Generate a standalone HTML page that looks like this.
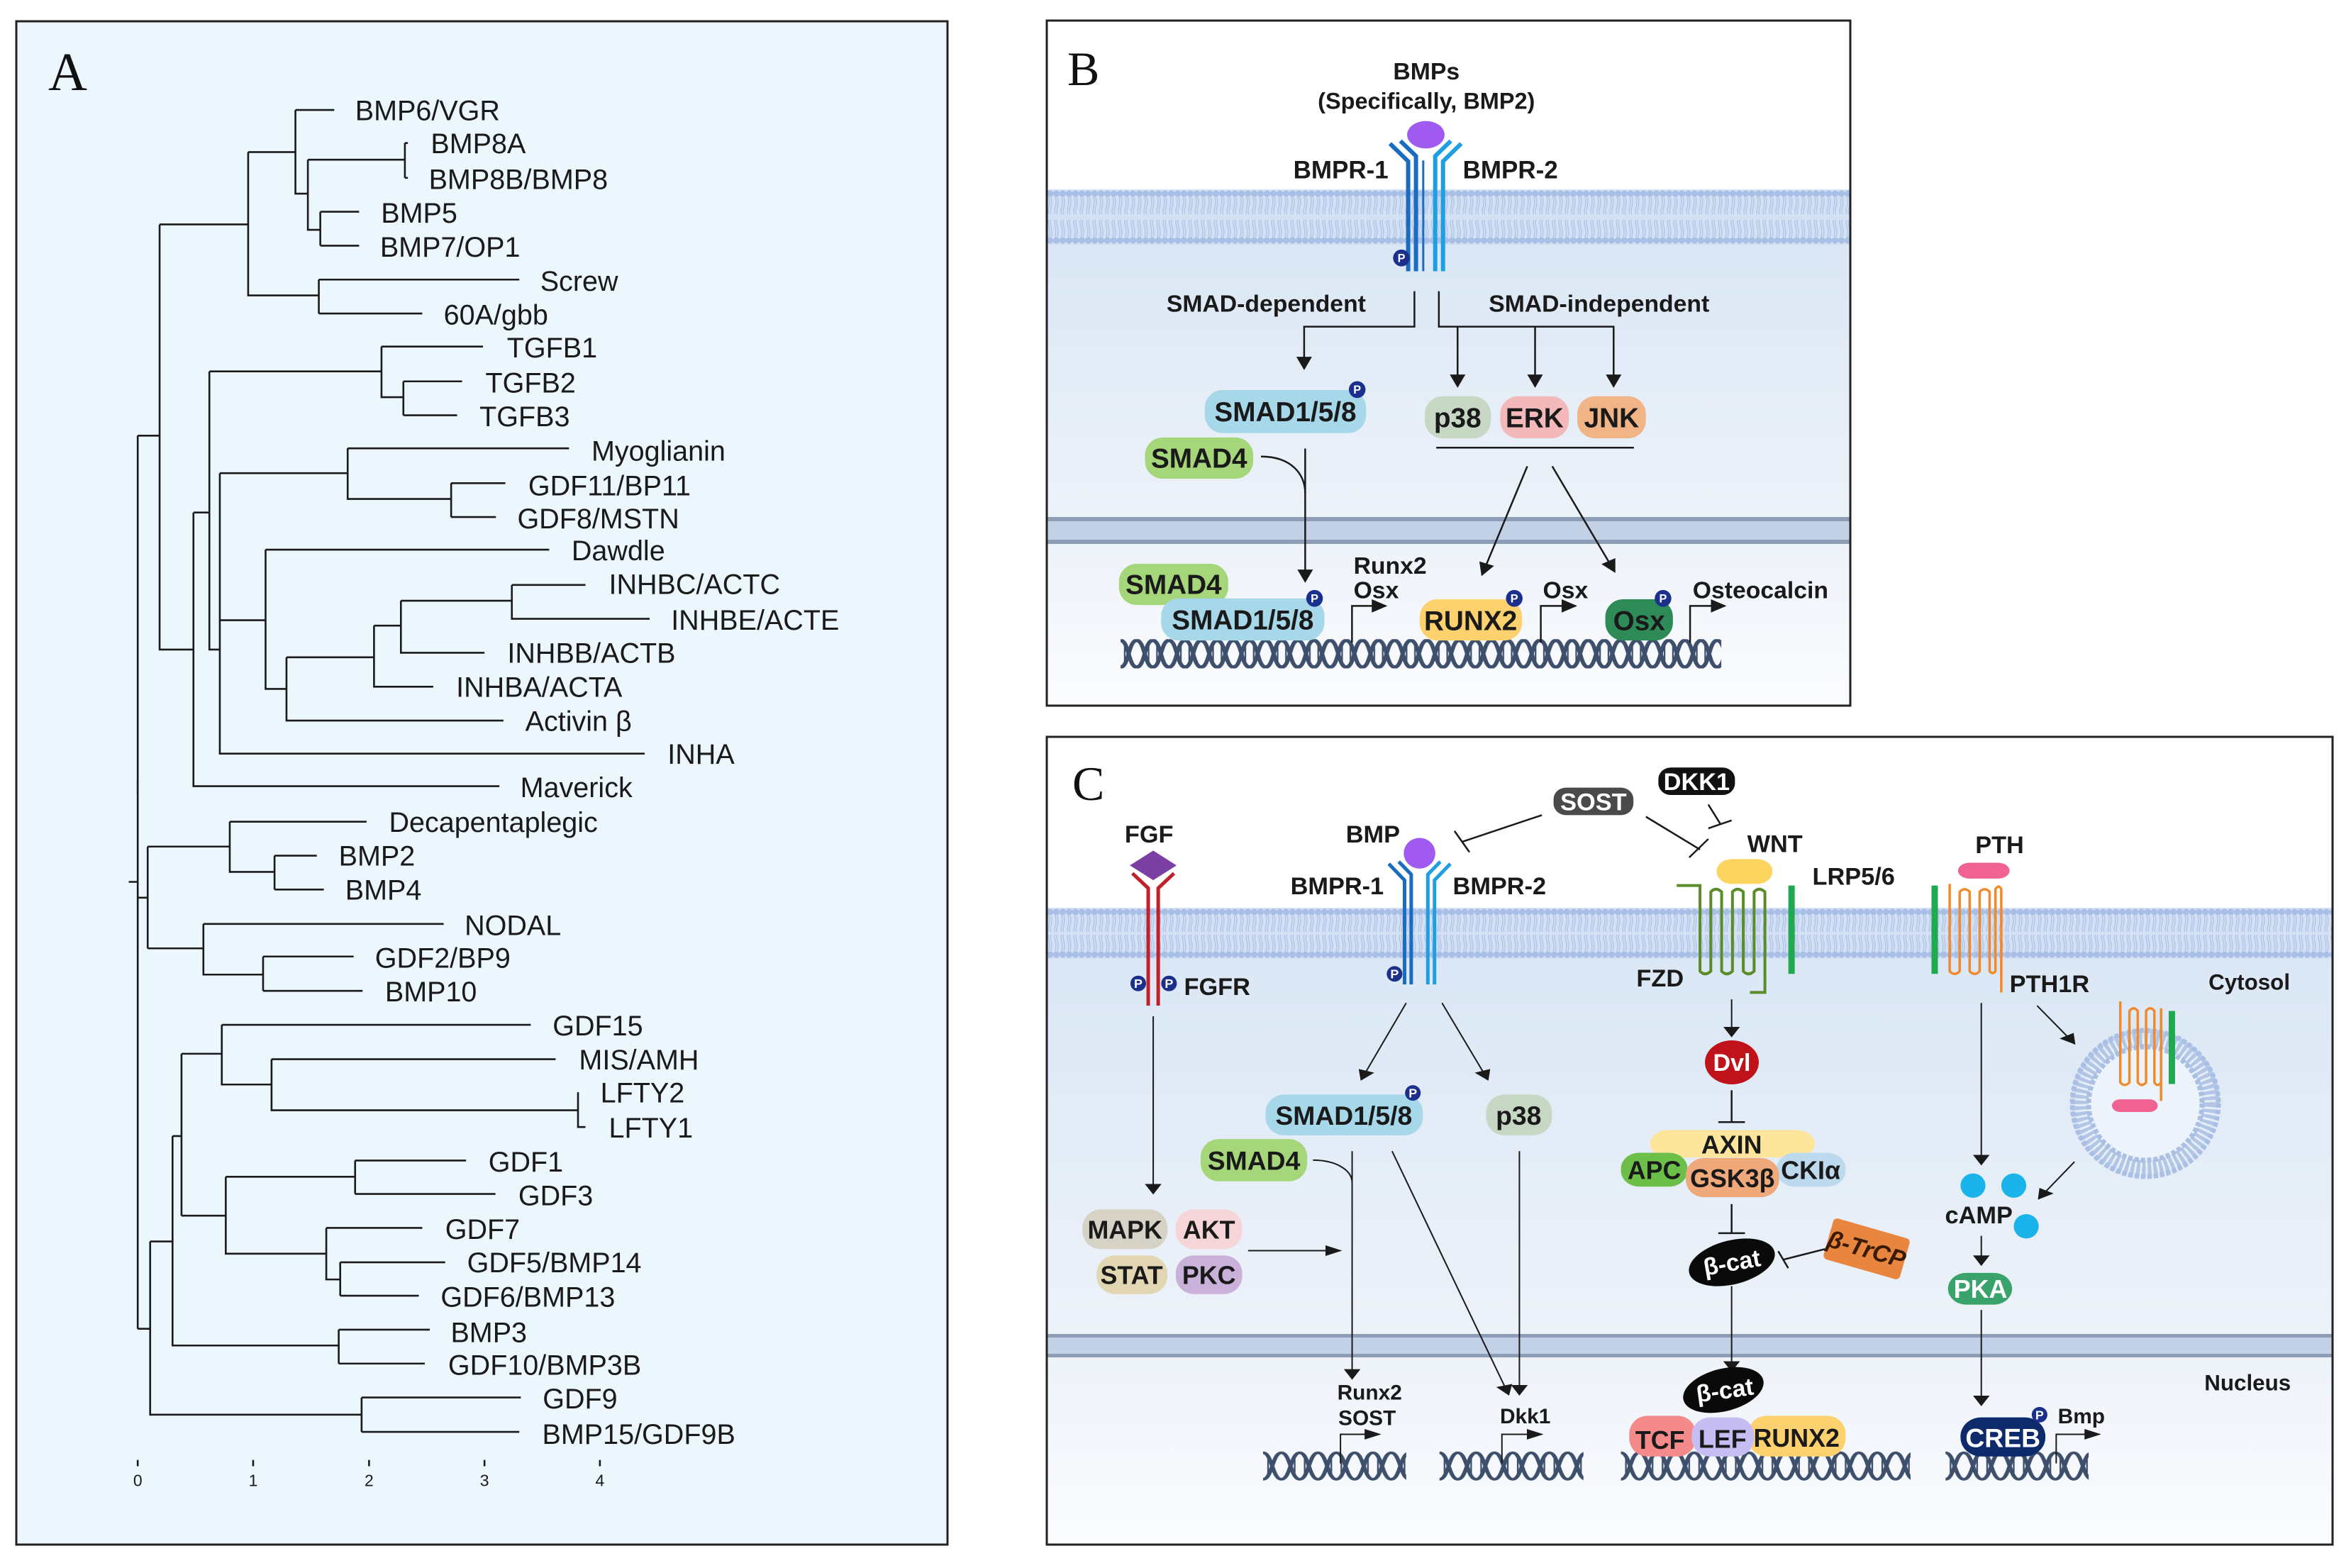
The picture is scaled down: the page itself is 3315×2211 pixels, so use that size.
<!DOCTYPE html>
<html><head><meta charset="utf-8">
<style>
html,body{margin:0;padding:0;background:#fff;}
svg{display:block;}
.ta text{font-family:"Liberation Sans",Arial,sans-serif;font-size:62px;fill:#1a1a1a;}
.tb text{font-family:"Liberation Sans",Arial,sans-serif;font-weight:bold;fill:#1a1a1a;}
.ln{fill:none;vector-effect:non-scaling-stroke;}
.ln:not([stroke]){stroke:#1a1a1a;}
</style></head>
<body>
<svg width="3315" height="2211" viewBox="0 0 3315 2211" xmlns="http://www.w3.org/2000/svg">
<defs>
<pattern id="memB" patternUnits="userSpaceOnUse" width="9" height="78">
<rect width="9" height="78" fill="#d4e0f3"/>
<circle cx="4.5" cy="6" r="4.6" fill="#a8bfe6"/><circle cx="4.5" cy="72" r="4.6" fill="#a8bfe6"/>
<path d="M3,11 q2,7 0,14 q-2,7 0,10 M6,11 q2,7 0,14 q-2,7 0,10 M3,67 q2,-7 0,-14 q-2,-7 0,-10 M6,67 q2,-7 0,-14 q-2,-7 0,-10" stroke="#adc3e8" stroke-width="1.3" fill="none"/>
</pattern>
<pattern id="memC" patternUnits="userSpaceOnUse" width="9" height="72">
<rect width="9" height="72" fill="#d4e0f3"/>
<circle cx="4.5" cy="6" r="4.6" fill="#a8bfe6"/><circle cx="4.5" cy="66" r="4.6" fill="#a8bfe6"/>
<path d="M3,11 q2,7 0,14 q-2,6 0,9 M6,11 q2,7 0,14 q-2,6 0,9 M3,61 q2,-7 0,-14 q-2,-6 0,-9 M6,61 q2,-7 0,-14 q-2,-6 0,-9" stroke="#adc3e8" stroke-width="1.3" fill="none"/>
</pattern>
<linearGradient id="cyt" x1="0" y1="0" x2="0" y2="1"><stop offset="0" stop-color="#dbe7f5"/><stop offset="1" stop-color="#edf2f9"/></linearGradient>
<linearGradient id="nuc" x1="0" y1="0" x2="0" y2="1"><stop offset="0" stop-color="#eef3fa"/><stop offset="1" stop-color="#fbfcfe"/></linearGradient>
<marker id="ah" markerUnits="userSpaceOnUse" markerWidth="30" markerHeight="30" viewBox="0 0 10 10" refX="9" refY="5" orient="auto"><path d="M0,0 L10,5 L0,10 z" fill="#1a1a1a"/></marker>
<marker id="ahC" markerUnits="userSpaceOnUse" markerWidth="20" markerHeight="20" viewBox="0 0 10 10" refX="9" refY="5" orient="auto"><path d="M0,0 L10,5 L0,10 z" fill="#1a1a1a"/></marker>
<pattern id="dnaB" patternUnits="userSpaceOnUse" width="62" height="66">
<path d="M0,3 C16,3 15,63 31,63 C47,63 46,3 62,3 M0,63 C16,63 15,3 31,3 C47,3 46,63 62,63" stroke="#3d4f6b" stroke-width="8" fill="none"/>
<path d="M8,14 V52 M54,14 V52" stroke="#3d4f6b" stroke-width="3" fill="none"/>
</pattern>
<pattern id="dnaC" patternUnits="userSpaceOnUse" width="44" height="56">
<path d="M0,3 C11,3 11,53 22,53 C33,53 33,3 44,3 M0,53 C11,53 11,3 22,3 C33,3 33,53 44,53" stroke="#3d4f6b" stroke-width="5" fill="none"/>
<path d="M6,12 V44 M38,12 V44" stroke="#3d4f6b" stroke-width="2" fill="none"/>
</pattern>
</defs>

<!-- ================= PANEL A ================= -->
<rect x="23" y="30" width="1313" height="2148" fill="#ebf6fd" stroke="#222" stroke-width="3"/>
<text x="68" y="127" font-family="Liberation Serif,serif" font-size="76" fill="#111">A</text>

<g transform="translate(150,120) scale(0.7015,0.6378)">
<path class="ln" stroke-width="2.6" d="
M380,55 H458 M380,55 V240 H405 M405,165 V320 H430 M405,165 H600 M600,128 V205 M600,128 H606 M600,205 H606
M430,280 V355 M430,280 H508 M430,355 H508
M285,148 H380 M285,148 V465 H427 M427,430 V505 M427,430 H830 M427,505 H635
M107,308 H285 M107,308 V1248 H175 M63,775 H107 M63,775 V1568
M553,578 V690 H597 M553,578 H757 M597,655 V730 M597,655 H715 M597,730 H705
M207,633 H553 M207,633 V1248 H228 M175,945 H207 M175,945 V1550 H790
M228,858 V1478 H1082 M228,858 H485 M485,803 V915 H693 M485,803 H930 M693,880 V955 M693,880 H802 M693,955 H783
M228,1183 H320 M320,1027 V1335 H362 M320,1027 H890 M362,1265 V1405 H798 M362,1265 H538 M538,1195 V1330 H657 M538,1195 H592
M592,1140 V1255 H760 M592,1140 H815 M815,1105 V1180 H1092 M815,1105 H963"/>
<g class="ta">
<text transform="translate(500,55) scale(0.909,1)" dy="0.36em">BMP6/VGR</text>
<text transform="translate(652,128) scale(0.909,1)" dy="0.36em">BMP8A</text>
<text transform="translate(648,207) scale(0.909,1)" dy="0.36em">BMP8B/BMP8</text>
<text transform="translate(552,282) scale(0.909,1)" dy="0.36em">BMP5</text>
<text transform="translate(550,357) scale(0.909,1)" dy="0.36em">BMP7/OP1</text>
<text transform="translate(872,432) scale(0.909,1)" dy="0.36em">Screw</text>
<text transform="translate(678,507) scale(0.909,1)" dy="0.36em">60A/gbb</text>
<text transform="translate(805,580) scale(0.909,1)" dy="0.36em">TGFB1</text>
<text transform="translate(762,657) scale(0.909,1)" dy="0.36em">TGFB2</text>
<text transform="translate(750,732) scale(0.909,1)" dy="0.36em">TGFB3</text>
<text transform="translate(975,808) scale(0.909,1)" dy="0.36em">Myoglianin</text>
<text transform="translate(848,885) scale(0.909,1)" dy="0.36em">GDF11/BP11</text>
<text transform="translate(826,958) scale(0.909,1)" dy="0.36em">GDF8/MSTN</text>
<text transform="translate(935,1028) scale(0.909,1)" dy="0.36em">Dawdle</text>
<text transform="translate(1010,1103) scale(0.909,1)" dy="0.36em">INHBC/ACTC</text>
<text transform="translate(1135,1182) scale(0.909,1)" dy="0.36em">INHBE/ACTE</text>
<text transform="translate(806,1255) scale(0.909,1)" dy="0.36em">INHBB/ACTB</text>
<text transform="translate(703,1330) scale(0.909,1)" dy="0.36em">INHBA/ACTA</text>
<text transform="translate(842,1405) scale(0.909,1)" dy="0.36em">Activin β</text>
<text transform="translate(1128,1478) scale(0.909,1)" dy="0.36em">INHA</text>
</g>
</g>

<g transform="translate(150,1100) scale(0.7015,0.6378)">
<path class="ln" stroke-width="2.6" d="
M63,0 V1213 M45,225 H63 M63,260 H83 M83,147 V372 M83,147 H248 M248,92 V203 H338 M248,92 H523 M338,167 V242 M338,167 H423 M338,242 H437
M83,372 H195 M195,318 V430 H315 M195,318 H678 M315,390 V466 M315,390 H497 M315,466 H515
M63,1213 H88 M88,1020 V1403 H513 M513,1365 V1441 M513,1365 H833 M513,1441 H830
M88,1020 H133 M133,787 V1250 H467 M467,1215 V1290 M467,1215 H650 M467,1290 H640
M133,787 H151 M151,605 V963 M151,605 H232 M232,541 V673 H332 M232,541 H853 M332,617 V730 H948 M332,617 H903 M948,690 V767 H963
M151,963 H240 M240,877 V1047 H442 M240,877 H500 M500,841 V915 M500,841 H723 M500,915 H782
M442,990 V1104 H470 M442,990 H635 M470,1066 V1140 M470,1066 H681 M470,1140 H628
M63,1503 V1517 M295,1503 V1517 M528,1503 V1517 M760,1503 V1517 M992,1503 V1517"/>
<g class="ta">
<text transform="translate(832,15) scale(0.909,1)" dy="0.36em">Maverick</text>
<text transform="translate(568,92) scale(0.909,1)" dy="0.36em">Decapentaplegic</text>
<text transform="translate(467,167) scale(0.909,1)" dy="0.36em">BMP2</text>
<text transform="translate(480,242) scale(0.909,1)" dy="0.36em">BMP4</text>
<text transform="translate(720,320) scale(0.909,1)" dy="0.36em">NODAL</text>
<text transform="translate(540,392) scale(0.909,1)" dy="0.36em">GDF2/BP9</text>
<text transform="translate(560,467) scale(0.909,1)" dy="0.36em">BMP10</text>
<text transform="translate(897,542) scale(0.909,1)" dy="0.36em">GDF15</text>
<text transform="translate(950,617) scale(0.909,1)" dy="0.36em">MIS/AMH</text>
<text transform="translate(993,690) scale(0.909,1)" dy="0.36em">LFTY2</text>
<text transform="translate(1010,768) scale(0.909,1)" dy="0.36em">LFTY1</text>
<text transform="translate(768,843) scale(0.909,1)" dy="0.36em">GDF1</text>
<text transform="translate(828,918) scale(0.909,1)" dy="0.36em">GDF3</text>
<text transform="translate(681,992) scale(0.909,1)" dy="0.36em">GDF7</text>
<text transform="translate(725,1066) scale(0.909,1)" dy="0.36em">GDF5/BMP14</text>
<text transform="translate(672,1142) scale(0.909,1)" dy="0.36em">GDF6/BMP13</text>
<text transform="translate(692,1220) scale(0.909,1)" dy="0.36em">BMP3</text>
<text transform="translate(687,1292) scale(0.909,1)" dy="0.36em">GDF10/BMP3B</text>
<text transform="translate(877,1367) scale(0.909,1)" dy="0.36em">GDF9</text>
<text transform="translate(876,1445) scale(0.909,1)" dy="0.36em">BMP15/GDF9B</text>
<text transform="translate(63,1548) scale(0.909,1)" dy="0.36em" text-anchor="middle" style="font-size:36px">0</text>
<text transform="translate(295,1548) scale(0.909,1)" dy="0.36em" text-anchor="middle" style="font-size:36px">1</text>
<text transform="translate(528,1548) scale(0.909,1)" dy="0.36em" text-anchor="middle" style="font-size:36px">2</text>
<text transform="translate(760,1548) scale(0.909,1)" dy="0.36em" text-anchor="middle" style="font-size:36px">3</text>
<text transform="translate(992,1548) scale(0.909,1)" dy="0.36em" text-anchor="middle" style="font-size:36px">4</text>
</g>
</g>

<!-- ================= PANEL B ================= -->
<rect x="1476" y="29" width="1133" height="966" fill="#fff"/>
<rect x="1476" y="345" width="1133" height="384" fill="url(#cyt)"/>
<rect x="1476" y="767" width="1133" height="228" fill="url(#nuc)"/>
<g transform="translate(1476,267)"><rect width="1133" height="78" fill="url(#memB)"/></g>
<rect x="1476" y="729" width="1133" height="38" fill="#c3d1e7"/>
<rect x="1476" y="729" width="1133" height="6" fill="#8e9db6"/>
<rect x="1476" y="761" width="1133" height="6" fill="#8e9db6"/>
<rect x="1476" y="29" width="1133" height="966" fill="none" stroke="#222" stroke-width="3"/>
<text x="1505" y="120" font-family="Liberation Serif,serif" font-size="68" fill="#111">B</text>

<g transform="translate(1470,20) scale(0.7334,0.625)">
<ellipse cx="737" cy="272" rx="36" ry="31" fill="#a05af0"/>
<path class="ln" stroke="#1a6cc0" stroke-width="6" d="M668,292 L703,332 V580 M688,286 L718,320 V580"/>
<path class="ln" stroke="#1f9fe2" stroke-width="6" d="M805,292 L770,332 V580 M785,286 L755,320 V580"/>
<path class="ln" stroke="#1a6cc0" stroke-width="3" d="M732,330 V580"/>
<ellipse cx="690" cy="550" rx="16" ry="19" fill="#1b2f8c"/>
<g class="tb">
<text transform="translate(738,128) scale(0.852,1)" dy="0.36em" text-anchor="middle" font-size="54">BMPs</text>
<text transform="translate(738,195) scale(0.852,1)" dy="0.36em" text-anchor="middle" font-size="52">(Specifically, BMP2)</text>
<text transform="translate(665,350) scale(0.852,1)" dy="0.36em" text-anchor="end" font-size="56">BMPR-1</text>
<text transform="translate(808,350) scale(0.852,1)" dy="0.36em" font-size="56">BMPR-2</text>
<text transform="translate(690,550) scale(0.852,1)" dy="0.36em" text-anchor="middle" font-size="26" style="fill:#fff">P</text>
<text transform="translate(430,652) scale(0.852,1)" dy="0.36em" text-anchor="middle" font-size="54">SMAD-dependent</text>
<text transform="translate(1070,652) scale(0.852,1)" dy="0.36em" text-anchor="middle" font-size="54">SMAD-independent</text>
</g>
<path class="ln" stroke-width="2.5" d="M715,625 V705 H503 V800" marker-end="url(#ah)"/>
<path class="ln" stroke-width="2.5" d="M762,625 V705 H1098 V840" marker-end="url(#ah)"/>
<path class="ln" stroke-width="2.5" d="M798,705 V840" marker-end="url(#ah)"/>
<path class="ln" stroke-width="2.5" d="M947,705 V840" marker-end="url(#ah)"/>
<rect x="312" y="848" width="310" height="97" rx="34" ry="40" fill="#a6d8ea"/>
<rect x="197" y="955" width="208" height="93" rx="34" ry="40" fill="#a5d67a"/>
<rect x="735" y="862" width="127" height="95" rx="34" ry="40" fill="#c6d8c4"/>
<rect x="880" y="862" width="132" height="95" rx="34" ry="40" fill="#f3b9ba"/>
<rect x="1028" y="862" width="132" height="95" rx="34" ry="40" fill="#f0b486"/>
<ellipse cx="605" cy="847" rx="16" ry="19" fill="#1b2f8c"/>
<path class="ln" stroke-width="2.5" d="M757,978 H1137"/>
<path class="ln" stroke-width="2.5" d="M420,998 C480,998 505,1040 505,1080"/>
<path class="ln" stroke-width="2.5" d="M505,980 V1280" marker-end="url(#ah)"/>
<path class="ln" stroke-width="2.5" d="M932,1020 L845,1265" marker-end="url(#ah)"/>
<path class="ln" stroke-width="2.5" d="M980,1020 L1100,1258" marker-end="url(#ah)"/>
<g transform="translate(150,1410)"><rect width="1155" height="66" fill="url(#dnaB)"/></g>
<rect x="147" y="1240" width="210" height="93" rx="34" ry="40" fill="#a5d67a"/>
<rect x="228" y="1318" width="314" height="95" rx="34" ry="40" fill="#a6d8ea"/>
<ellipse cx="523" cy="1318" rx="16" ry="19" fill="#1b2f8c"/>
<rect x="725" y="1320" width="197" height="93" rx="34" ry="40" fill="#fdd26e"/>
<ellipse cx="907" cy="1318" rx="16" ry="19" fill="#1b2f8c"/>
<rect x="1082" y="1320" width="130" height="93" rx="34" ry="40" fill="#2e8b57"/>
<ellipse cx="1193" cy="1318" rx="16" ry="19" fill="#1b2f8c"/>
<path class="ln" stroke-width="2.5" d="M595,1418 V1335 H660" marker-end="url(#ah)"/>
<path class="ln" stroke-width="2.5" d="M958,1418 V1335 H1025" marker-end="url(#ah)"/>
<path class="ln" stroke-width="2.5" d="M1245,1418 V1335 H1312" marker-end="url(#ah)"/>
<g class="tb">
<text transform="translate(467,896) scale(0.852,1)" dy="0.36em" text-anchor="middle" font-size="62">SMAD1/5/8</text>
<text transform="translate(301,1001) scale(0.852,1)" dy="0.36em" text-anchor="middle" font-size="62">SMAD4</text>
<text transform="translate(798,910) scale(0.852,1)" dy="0.36em" text-anchor="middle" font-size="62">p38</text>
<text transform="translate(946,910) scale(0.852,1)" dy="0.36em" text-anchor="middle" font-size="62">ERK</text>
<text transform="translate(1094,910) scale(0.852,1)" dy="0.36em" text-anchor="middle" font-size="62">JNK</text>
<text transform="translate(252,1286) scale(0.852,1)" dy="0.36em" text-anchor="middle" font-size="62">SMAD4</text>
<text transform="translate(385,1366) scale(0.852,1)" dy="0.36em" text-anchor="middle" font-size="62">SMAD1/5/8</text>
<text transform="translate(823,1367) scale(0.852,1)" dy="0.36em" text-anchor="middle" font-size="62">RUNX2</text>
<text transform="translate(1147,1367) scale(0.852,1)" dy="0.36em" text-anchor="middle" font-size="62">Osx</text>
<text transform="translate(598,1243) scale(0.852,1)" dy="0.36em" font-size="54">Runx2</text>
<text transform="translate(598,1298) scale(0.852,1)" dy="0.36em" font-size="54">Osx</text>
<text transform="translate(962,1298) scale(0.852,1)" dy="0.36em" font-size="54">Osx</text>
<text transform="translate(1250,1298) scale(0.852,1)" dy="0.36em" font-size="54">Osteocalcin</text>
<text transform="translate(605,847) scale(0.852,1)" dy="0.36em" text-anchor="middle" font-size="26" style="fill:#fff">P</text>
<text transform="translate(523,1318) scale(0.852,1)" dy="0.36em" text-anchor="middle" font-size="26" style="fill:#fff">P</text>
<text transform="translate(907,1318) scale(0.852,1)" dy="0.36em" text-anchor="middle" font-size="26" style="fill:#fff">P</text>
<text transform="translate(1193,1318) scale(0.852,1)" dy="0.36em" text-anchor="middle" font-size="26" style="fill:#fff">P</text>
</g>
</g>

<!-- ================= PANEL C ================= -->
<rect x="1476" y="1039" width="1813" height="1139" fill="#fff"/>
<rect x="1476" y="1352" width="1813" height="529" fill="url(#cyt)"/>
<rect x="1476" y="1914" width="1813" height="264" fill="url(#nuc)"/>
<g transform="translate(1476,1280)"><rect width="1813" height="72" fill="url(#memC)"/></g>
<rect x="1476" y="1881" width="1813" height="33" fill="#c3d1e7"/>
<rect x="1476" y="1881" width="1813" height="5" fill="#8e9db6"/>
<rect x="1476" y="1909" width="1813" height="5" fill="#8e9db6"/>
<rect x="1476" y="1039" width="1813" height="1139" fill="none" stroke="#222" stroke-width="3"/>
<text x="1512" y="1128" font-family="Liberation Serif,serif" font-size="68" fill="#111">C</text>

<circle cx="3025" cy="1556" r="92" fill="#e9f0f9" stroke="#b3c6e6" stroke-width="26" stroke-dasharray="5 3"/>
<circle cx="3025" cy="1556" r="103" fill="none" stroke="#a9bfe4" stroke-width="7" stroke-dasharray="6 3"/>
<circle cx="3025" cy="1556" r="80" fill="#edf3fa" stroke="#a9bfe4" stroke-width="7" stroke-dasharray="6 3"/>

<g transform="translate(1470,1030) scale(1.1735,0.7462)">
<path d="M133,227 L161,255 L133,283 L105,255 z" fill="#7b3fa3"/>
<path class="ln" stroke="#c0202a" stroke-width="5" d="M108,270 L127,298 V520 M158,270 L139,298 V520"/>
<ellipse cx="115" cy="478" rx="9.4" ry="14.7" fill="#1b2f8c"/>
<ellipse cx="152" cy="478" rx="9.4" ry="14.7" fill="#1b2f8c"/>
<path class="ln" stroke-width="2" d="M133,540 V875" marker-end="url(#ahC)"/>
<rect x="48" y="905" width="102" height="75" rx="22" ry="34" fill="#d6d2c6"/>
<rect x="160" y="905" width="80" height="75" rx="22" ry="34" fill="#f6d5d8"/>
<rect x="65" y="992" width="85" height="73" rx="22" ry="34" fill="#e3d6b2"/>
<rect x="160" y="992" width="80" height="73" rx="22" ry="34" fill="#c9b1d9"/>
<path class="ln" stroke-width="2" d="M247,983 H358" marker-end="url(#ahC)"/>
<ellipse cx="453" cy="232" rx="19" ry="29" fill="#a05af0"/>
<path class="ln" stroke="#1a6cc0" stroke-width="5" d="M416,252 L435,283 V480 M428,248 L443,272 V480"/>
<path class="ln" stroke="#1f9fe2" stroke-width="5" d="M490,252 L471,283 V480 M478,248 L463,272 V480"/>
<ellipse cx="423" cy="460" rx="9.4" ry="14.7" fill="#1b2f8c"/>
<path class="ln" stroke-width="2" d="M437,515 L383,660" marker-end="url(#ahC)"/>
<path class="ln" stroke-width="2" d="M480,515 L535,660" marker-end="url(#ahC)"/>
<rect x="268" y="688" width="189" height="77" rx="22" ry="34" fill="#a6d8ea"/>
<ellipse cx="445" cy="685" rx="9.4" ry="14.7" fill="#1b2f8c"/>
<rect x="533" y="688" width="79" height="77" rx="22" ry="34" fill="#c6d8c4"/>
<rect x="190" y="772" width="128" height="80" rx="22" ry="34" fill="#a5d67a"/>
<path class="ln" stroke-width="2" d="M325,812 C352,812 372,830 372,855"/>
<path class="ln" stroke-width="2" d="M372,795 V1225" marker-end="url(#ahC)"/>
<path class="ln" stroke-width="2" d="M420,795 L560,1255" marker-end="url(#ahC)"/>
<path class="ln" stroke-width="2" d="M573,795 V1255" marker-end="url(#ahC)"/>
<g transform="translate(265,1362)"><rect width="172" height="56" fill="url(#dnaC)"/></g>
<g transform="translate(477,1362)"><rect width="173" height="56" fill="url(#dnaC)"/></g>
<g transform="translate(695,1362)"><rect width="348" height="56" fill="url(#dnaC)"/></g>
<g transform="translate(1085,1362)"><rect width="172" height="56" fill="url(#dnaC)"/></g>
<path class="ln" stroke-width="2" d="M358,1385 V1330 H405" marker-end="url(#ahC)"/>
<path class="ln" stroke-width="2" d="M552,1385 V1330 H600" marker-end="url(#ahC)"/>
<rect x="614" y="108" width="96" height="52" rx="15" ry="22" fill="#4a4a4a"/>
<rect x="740" y="70" width="92" height="52" rx="15" ry="22" fill="#111"/>
<path class="ln" stroke-width="2.5" d="M600,160 L505,210 M495,190 L513,230"/>
<path class="ln" stroke-width="2.5" d="M725,163 L790,225 M777,240 L800,205"/>
<path class="ln" stroke-width="2.5" d="M800,140 L815,178 M800,185 L828,170"/>
<rect x="810" y="243" width="67" height="47" rx="18" ry="23" fill="#fcd55f"/>
<path class="ln" stroke="#5b8c2a" stroke-width="4" d="M762,293 H790 V455 Q796,465 803,455 V305 Q809,295 816,305 V455 Q822,465 829,455 V305 Q835,295 842,305 V455 Q848,465 855,455 V305 Q861,295 868,305 V495 H850"/>
<path class="ln" stroke="#1faa4f" stroke-width="9" d="M900,293 V460"/>
<path class="ln" stroke-width="2" d="M828,508 V578" marker-end="url(#ahC)"/>
<path class="ln" stroke-width="2.5" d="M828,680 V740 M812,740 H844"/>
<rect x="730" y="755" width="198" height="52" rx="22" ry="26" fill="#fde59c"/>
<rect x="695" y="798" width="80" height="64" rx="22" ry="30" fill="#6cc04a"/>
<rect x="882" y="798" width="83" height="64" rx="22" ry="30" fill="#bcd9ee"/>
<rect x="773" y="808" width="112" height="74" rx="22" ry="32" fill="#f0a97a"/>
<path class="ln" stroke-width="2.5" d="M828,895 V950 M812,950 H844"/>
<path class="ln" stroke-width="2.5" d="M940,980 L890,1000 M884,984 L896,1016"/>
<path class="ln" stroke-width="2" d="M828,1050 V1210" marker-end="url(#ahC)"/>
<rect x="705" y="1295" width="80" height="77" rx="22" ry="34" fill="#f48a8a"/>
<rect x="848" y="1295" width="117" height="77" rx="22" ry="34" fill="#fdd26e"/>
<rect x="780" y="1298" width="75" height="74" rx="22" ry="34" fill="#c6bdf3"/>
<rect x="1100" y="250" width="62" height="30" rx="14" ry="15" fill="#f06292"/>
<path class="ln" stroke="#1faa4f" stroke-width="9" d="M1072,293 V460"/>
<path class="ln" stroke="#f08a2c" stroke-width="3.5" d="M1090,290 V455 Q1096,465 1102,455 V305 Q1108,295 1114,305 V455 Q1120,465 1126,455 V305 Q1132,295 1138,305 V455 Q1142,462 1145,455 V300 Q1149,290 1152,300 V495"/>
<path class="ln" stroke-width="2" d="M1128,515 V820" marker-end="url(#ahC)"/>
<path class="ln" stroke-width="2" d="M1195,520 L1240,592" marker-end="url(#ahC)"/>
<path class="ln" stroke="#f08a2c" stroke-width="3.5" d="M1295,512 V665 Q1300,675 1306,665 V530 Q1311,520 1316,530 V665 Q1321,675 1326,665 V530 Q1331,520 1336,530 V665 Q1340,675 1344,665 V525 M1344,665 V700"/>
<path class="ln" stroke="#1faa4f" stroke-width="9" d="M1357,530 V668"/>
<rect x="1285" y="697" width="55" height="24" rx="10" ry="12" fill="#f06292"/>
<path class="ln" stroke-width="2" d="M1240,815 L1197,885" marker-end="url(#ahC)"/>
<ellipse cx="1118" cy="860" rx="15" ry="23" fill="#1ab3ea"/>
<ellipse cx="1167" cy="860" rx="15" ry="23" fill="#1ab3ea"/>
<ellipse cx="1182" cy="937" rx="15" ry="23" fill="#1ab3ea"/>
<path class="ln" stroke-width="2" d="M1128,955 V1010" marker-end="url(#ahC)"/>
<rect x="1088" y="1025" width="77" height="60" rx="22" ry="30" fill="#3aa36b"/>
<path class="ln" stroke-width="2" d="M1128,1095 V1275" marker-end="url(#ahC)"/>
<rect x="1103" y="1298" width="102" height="74" rx="25" ry="36" fill="#0d2a6b"/>
<ellipse cx="1198" cy="1293" rx="9.4" ry="14.7" fill="#1b2f8c"/>
<path class="ln" stroke-width="2" d="M1218,1385 V1330 H1270" marker-end="url(#ahC)"/>
<g class="tb">
<text transform="translate(128,195) scale(0.636,1)" dy="0.36em" text-anchor="middle" font-size="46">FGF</text>
<text transform="translate(170,483) scale(0.636,1)" dy="0.36em" font-size="46">FGFR</text>
<text transform="translate(115,478) scale(0.636,1)" dy="0.36em" text-anchor="middle" font-size="24" style="fill:#fff">P</text>
<text transform="translate(152,478) scale(0.636,1)" dy="0.36em" text-anchor="middle" font-size="24" style="fill:#fff">P</text>
<text transform="translate(99,943) scale(0.636,1)" dy="0.36em" text-anchor="middle" font-size="48">MAPK</text>
<text transform="translate(200,943) scale(0.636,1)" dy="0.36em" text-anchor="middle" font-size="48">AKT</text>
<text transform="translate(107,1029) scale(0.636,1)" dy="0.36em" text-anchor="middle" font-size="48">STAT</text>
<text transform="translate(200,1029) scale(0.636,1)" dy="0.36em" text-anchor="middle" font-size="48">PKC</text>
<text transform="translate(397,195) scale(0.636,1)" dy="0.36em" text-anchor="middle" font-size="46">BMP</text>
<text transform="translate(410,293) scale(0.636,1)" dy="0.36em" text-anchor="end" font-size="46">BMPR-1</text>
<text transform="translate(493,293) scale(0.636,1)" dy="0.36em" font-size="46">BMPR-2</text>
<text transform="translate(423,460) scale(0.636,1)" dy="0.36em" text-anchor="middle" font-size="24" style="fill:#fff">P</text>
<text transform="translate(362,727) scale(0.636,1)" dy="0.36em" text-anchor="middle" font-size="50">SMAD1/5/8</text>
<text transform="translate(445,685) scale(0.636,1)" dy="0.36em" text-anchor="middle" font-size="24" style="fill:#fff">P</text>
<text transform="translate(572,727) scale(0.636,1)" dy="0.36em" text-anchor="middle" font-size="50">p38</text>
<text transform="translate(254,812) scale(0.636,1)" dy="0.36em" text-anchor="middle" font-size="50">SMAD4</text>
<text transform="translate(393,1250) scale(0.636,1)" dy="0.36em" text-anchor="middle" font-size="40">Runx2</text>
<text transform="translate(390,1298) scale(0.636,1)" dy="0.36em" text-anchor="middle" font-size="40">SOST</text>
<text transform="translate(580,1295) scale(0.636,1)" dy="0.36em" text-anchor="middle" font-size="40">Dkk1</text>
<text transform="translate(662,134) scale(0.636,1)" dy="0.36em" text-anchor="middle" font-size="46" style="fill:#fff">SOST</text>
<text transform="translate(786,96) scale(0.636,1)" dy="0.36em" text-anchor="middle" font-size="46" style="fill:#fff">DKK1</text>
<text transform="translate(880,213) scale(0.636,1)" dy="0.36em" text-anchor="middle" font-size="46">WNT</text>
<text transform="translate(925,275) scale(0.636,1)" dy="0.36em" font-size="46">LRP5/6</text>
<text transform="translate(742,467) scale(0.636,1)" dy="0.36em" text-anchor="middle" font-size="46">FZD</text>
<text transform="translate(828,782) scale(0.636,1)" dy="0.36em" text-anchor="middle" font-size="48">AXIN</text>
<text transform="translate(735,830) scale(0.636,1)" dy="0.36em" text-anchor="middle" font-size="48">APC</text>
<text transform="translate(829,846) scale(0.636,1)" dy="0.36em" text-anchor="middle" font-size="48">GSK3β</text>
<text transform="translate(923,830) scale(0.636,1)" dy="0.36em" text-anchor="middle" font-size="48">CKIα</text>
<text transform="translate(742,1340) scale(0.636,1)" dy="0.36em" text-anchor="middle" font-size="48">TCF</text>
<text transform="translate(817,1338) scale(0.636,1)" dy="0.36em" text-anchor="middle" font-size="48">LEF</text>
<text transform="translate(906,1336) scale(0.636,1)" dy="0.36em" text-anchor="middle" font-size="48">RUNX2</text>
<text transform="translate(1150,215) scale(0.636,1)" dy="0.36em" text-anchor="middle" font-size="46">PTH</text>
<text transform="translate(1162,478) scale(0.636,1)" dy="0.36em" font-size="46">PTH1R</text>
<text transform="translate(1450,475) scale(0.636,1)" dy="0.36em" text-anchor="middle" font-size="42">Cytosol</text>
<text transform="translate(1448,1232) scale(0.636,1)" dy="0.36em" text-anchor="middle" font-size="42">Nucleus</text>
<text transform="translate(1125,915) scale(0.636,1)" dy="0.36em" text-anchor="middle" font-size="46">cAMP</text>
<text transform="translate(1127,1055) scale(0.636,1)" dy="0.36em" text-anchor="middle" font-size="48" style="fill:#fff">PKA</text>
<text transform="translate(1154,1336) scale(0.636,1)" dy="0.36em" text-anchor="middle" font-size="50" style="fill:#fff">CREB</text>
<text transform="translate(1198,1293) scale(0.636,1)" dy="0.36em" text-anchor="middle" font-size="24" style="fill:#fff">P</text>
<text transform="translate(1220,1295) scale(0.636,1)" dy="0.36em" font-size="40">Bmp</text>
</g>
</g>

<ellipse cx="2442" cy="1498" rx="38" ry="31" fill="#c0121b"/>
<text x="2442" y="1510" text-anchor="middle" font-family="Liberation Sans,sans-serif" font-weight="bold" font-size="34" fill="#fff">Dvl</text>
<ellipse cx="2442" cy="1780" rx="62" ry="31" fill="#0a0a0a" transform="rotate(-14 2442 1780)"/>
<text x="2442" y="1792" text-anchor="middle" font-family="Liberation Sans,sans-serif" font-weight="bold" font-size="34" fill="#fff" transform="rotate(-10 2442 1780)">β-cat</text>
<g transform="rotate(16 2632 1761)">
<rect x="2576" y="1731" width="112" height="60" rx="6" fill="#e8853f"/>
<text x="2632" y="1773" text-anchor="middle" font-family="Liberation Sans,sans-serif" font-style="italic" font-weight="bold" font-size="34" fill="#3a1a00">β-TrCP</text>
</g>
<ellipse cx="2430" cy="1960" rx="58" ry="30" fill="#0a0a0a" transform="rotate(-14 2430 1960)"/>
<text x="2432" y="1972" text-anchor="middle" font-family="Liberation Sans,sans-serif" font-weight="bold" font-size="34" fill="#fff" transform="rotate(-8 2432 1960)">β-cat</text>
</svg>
</body></html>
